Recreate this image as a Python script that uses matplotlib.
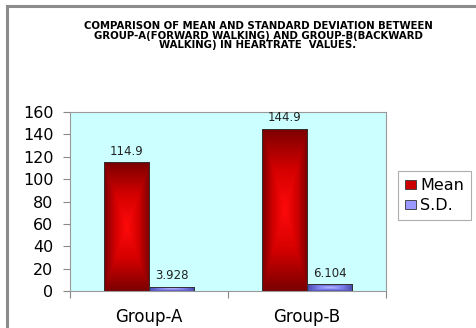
import numpy as np
import matplotlib
matplotlib.use("Agg")
import matplotlib.pyplot as plt
from matplotlib.patches import Patch, Rectangle
from matplotlib.colors import LinearSegmentedColormap

# data
groups = ["Group-A", "Group-B"]
mean_vals = [114.9, 144.9]
sd_vals = [3.928, 6.104]
mean_labels = ["114.9", "144.9"]
sd_labels = ["3.928", "6.104"]
yticks = [0, 20, 40, 60, 80, 100, 120, 140, 160]

title = ("COMPARISON OF MEAN AND STANDARD DEVIATION BETWEEN\n"
         "GROUP-A(FORWARD WALKING) AND GROUP-B(BACKWARD\n"
         "WALKING) IN HEARTRATE  VALUES.")

plt.rcParams["font.family"] = ["DejaVu Sans"]

fig = plt.figure(figsize=(4.77, 3.28), dpi=100)
fig.patch.set_facecolor("white")

# outer chart frame (runs off right/bottom like the screenshot)
fig.patches.append(Rectangle((7 / 477, -0.05), 1.0, 1 - 6 / 328 + 0.05,
                             transform=fig.transFigure, fill=False,
                             edgecolor="#8c8c8c", linewidth=2.2))

ax = fig.add_axes([70 / 477, 37 / 328, 316 / 477, 179 / 328])
ax.set_facecolor("#ccffff")

x = np.arange(len(groups))
w = 0.285
bars_m = ax.bar(x - w / 2, mean_vals, w, color="none", edgecolor="#333333", linewidth=0.7, zorder=3)
bars_s = ax.bar(x + w / 2, sd_vals, w, color="none", edgecolor="#333333", linewidth=0.7, zorder=3)

# "from center" gradient fill
u = np.linspace(-1, 1, 200)
U, V = np.meshgrid(u, u)
D = np.maximum(np.abs(U), np.abs(V))
cm_red = LinearSegmentedColormap.from_list("r", ["#ff0a0a", "#d40000", "#7a0000"])
cm_blue = LinearSegmentedColormap.from_list("b", ["#b8b8ff", "#8080f0", "#4848a8"])
for bars, cm in ((bars_m, cm_red), (bars_s, cm_blue)):
    for b in bars:
        x0, y0, bw, bh = b.get_x(), b.get_y(), b.get_width(), b.get_height()
        im = ax.imshow(D, cmap=cm, extent=(x0, x0 + bw, y0, y0 + bh),
                       aspect="auto", origin="lower", zorder=2, interpolation="bilinear")
        im.set_clip_path(b)

for b, lab in zip(bars_m, mean_labels):
    ax.text(b.get_x() + b.get_width() / 2, b.get_height() + 4, lab,
            ha="center", va="bottom", fontsize=8.5, color="#222222", zorder=4)
for b, lab in zip(bars_s, sd_labels):
    ax.text(b.get_x() + b.get_width() / 2, b.get_height() + 4, lab,
            ha="center", va="bottom", fontsize=8.5, color="#222222", zorder=4)

ax.set_xlim(-0.5, 1.5)
ax.set_ylim(0, 160)
ax.set_yticks(yticks)
ax.set_yticklabels([str(t) for t in yticks], fontsize=11.5)
ax.set_xticks([-0.5, 0.5, 1.5])
ax.set_xticklabels([])
ax.set_xticks(x, minor=True)
ax.set_xticklabels(groups, minor=True, fontsize=12)
ax.tick_params(axis="x", which="minor", length=0, pad=12)
ax.tick_params(axis="x", which="major", length=5, color="#888888")
ax.tick_params(axis="y", length=5, color="#888888", pad=7)
for s in ax.spines.values():
    s.set_color("#999999")
    s.set_linewidth(0.8)

fig.text(258 / 477, 1 - 21 / 328, title, ha="center", va="top",
         fontsize=7.3, fontweight="bold", linespacing=0.95)

handles = [Patch(facecolor="#cc0000", edgecolor="#333333", linewidth=0.6),
           Patch(facecolor="#9999ff", edgecolor="#333333", linewidth=0.6)]
leg = fig.legend(handles, ["Mean", "S.D."], loc="upper left",
                 bbox_to_anchor=(398 / 477, 1 - 171 / 328), fontsize=11.5,
                 fancybox=False, frameon=True, handlelength=0.7, handleheight=0.55,
                 handletextpad=0.25, borderpad=0.45, labelspacing=0.3, borderaxespad=0)
leg.get_frame().set_edgecolor("#999999")
leg.get_frame().set_linewidth(0.8)

fig.savefig("out.png", dpi=100)
